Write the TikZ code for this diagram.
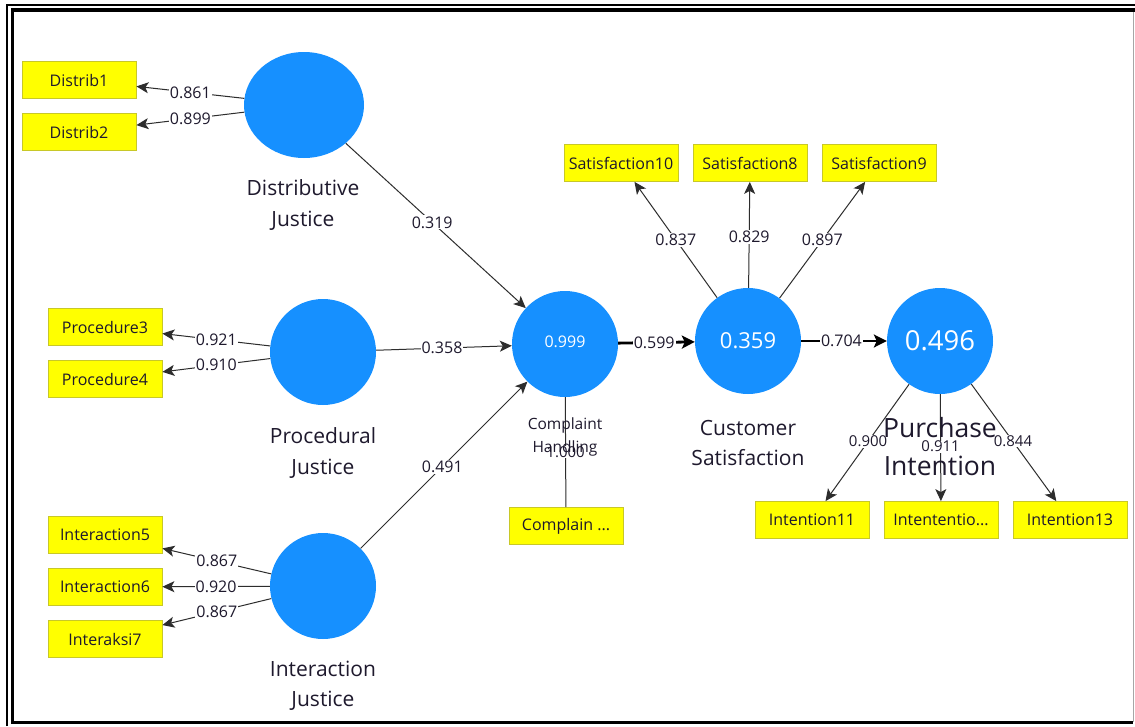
\documentclass[tikz,border=0pt]{standalone}
\usepackage{fontspec}
\setmainfont{Open Sans}
\usetikzlibrary{arrows.meta,shapes.geometric}
\definecolor{lv}{RGB}{22,144,255}
\definecolor{mvfill}{RGB}{255,255,0}
\definecolor{mvdraw}{RGB}{200,200,40}
\definecolor{txt}{RGB}{30,25,45}
\definecolor{ln}{RGB}{45,45,45}
\tikzset{
  lvnode/.style={circle,fill=lv,draw=none,minimum size=106pt,inner sep=0pt,text=white},
  mvnode/.style={rectangle,fill=mvfill,draw=mvdraw,line width=0.8pt,minimum width=114pt,minimum height=37pt,inner sep=0pt,text=txt,font=\fontsize{16}{18}\selectfont},
  lvname/.style={align=center,text=txt,font=\fontsize{21}{30.5}\selectfont},
  lbl/.style={fill=white,inner sep=1pt,text=txt,font=\fontsize{16}{18}\selectfont},
  lblsm/.style={fill=white,inner sep=0.5pt,text=txt,font=\fontsize{15}{16}\selectfont},
  conn/.style={draw=ln,line width=1pt,-{Stealth[length=12pt,width=11pt,inset=3pt]}},
  plain/.style={draw=ln,line width=1pt},
  thickconn/.style={draw=black,line width=2.8pt,-{Stealth[length=13pt,width=13pt,inset=3pt]}}
}
\begin{document}
\begin{tikzpicture}[x=1pt,y=-1pt]
\useasboundingbox (0,0) rectangle (1135,726);
\fill[white] (0,0) rectangle (1135,726);
% frame
\draw[black,line width=1.2pt] (7,726) -- (7,5) -- (1135,5);
\draw[black,line width=3.8pt] (1135,10) -- (12.5,10) -- (12.5,722.5) -- (1133,722.5);
\draw[gray!70,line width=1.4pt] (1133.5,12) -- (1133.5,722);

% latent variables
\node[ellipse,fill=lv,draw=none,minimum width=120pt,minimum height=106pt,inner sep=0pt] (dj) at (304,105) {};
\node[lvnode] (pj) at (323,352) {};
\node[lvnode] (ij) at (323,586) {};
\node[lvnode,font=\fontsize{16}{18}\selectfont] (ch) at (565,344) {\raisebox{4pt}{0.999}};
\node[lvnode,font=\fontsize{22}{24}\selectfont] (cs) at (748,341) {0.359};
\node[lvnode,font=\fontsize{27.5}{30}\selectfont] (pi) at (940,341) {0.496};

% indicators
\node[mvnode] (d1) at (79,80) {Distrib1};
\node[mvnode] (d2) at (79,132) {Distrib2};
\node[mvnode] (p3) at (105,327) {Procedure3};
\node[mvnode] (p4) at (105,379) {Procedure4};
\node[mvnode] (i5) at (105,535) {Interaction5};
\node[mvnode] (i6) at (105,587) {Interaction6};
\node[mvnode] (i7) at (105,639) {Interaksi7};
\node[mvnode] (c1) at (566,526) {Complain ...};
\node[mvnode] (s10) at (621,163) {Satisfaction10};
\node[mvnode] (s8) at (750,163) {Satisfaction8};
\node[mvnode] (s9) at (879,163) {Satisfaction9};
\node[mvnode] (n11) at (812,520) {Intention11};
\node[mvnode] (n12) at (941,520) {Intententio...};
\node[mvnode] (n13) at (1070,520) {Intention13};

% loadings
\draw[conn] (dj) -- node[lbl,pos=0.5] {0.861} (d1);
\draw[conn] (dj) -- node[lbl,pos=0.5] {0.899} (d2);
\draw[conn] (pj) -- node[lbl,pos=0.5] {0.921} (p3);
\draw[conn] (pj) -- node[lbl,pos=0.5] {0.910} (p4);
\draw[conn] (ij) -- node[lbl,pos=0.5] {0.867} (i5);
\draw[conn] (ij) -- node[lbl,pos=0.5] {0.920} (i6);
\draw[conn] (ij) -- node[lbl,pos=0.5] {0.867} (i7);
\draw[plain] (ch) -- node[lblsm,pos=0.5] {1.000} (c1);
\draw[conn] (cs) -- node[lbl,pos=0.5] {0.837} (s10);
\draw[conn] (cs) -- node[lbl,pos=0.48] {0.829} (s8);
\draw[conn] (cs) -- node[lbl,pos=0.5] {0.897} (s9);
\draw[conn] (pi) -- node[lblsm,pos=0.49] {0.900} (n11);
\draw[conn] (pi) -- node[lblsm,pos=0.49] {0.911} (n12);
\draw[conn] (pi) -- node[lblsm,pos=0.49] {0.844} (n13);

% structural paths
\draw[conn] (dj) -- node[lbl,pos=0.48] {0.319} (ch);
\draw[conn] (pj) -- node[lbl,pos=0.485] {0.358} (ch);
\draw[conn] (ij) -- node[lbl,pos=0.49] {0.491} (ch);
\draw[thickconn] (ch) -- node[lbl,pos=0.47] {0.599} (cs);
\draw[thickconn] (cs) -- node[lbl,pos=0.47] {0.704} (pi);

% construct names
\node[lvname] (djn) at (303,205) {Distributive\\Justice};
\node[lvname] (pjn) at (323,453) {Procedural\\Justice};
\node[lvname] (ijn) at (323,686) {Interaction\\Justice};
\node[lvname,font=\fontsize{15.5}{23}\selectfont] (chn) at (565,437) {Complaint\\Handling};
\node[lvname] (csn) at (748,443) {Customer\\Satisfaction};
\node[lvname,font=\fontsize{26.5}{38}\selectfont] (pin) at (940,447) {Purchase\\Intention};
\end{tikzpicture}
\end{document}
